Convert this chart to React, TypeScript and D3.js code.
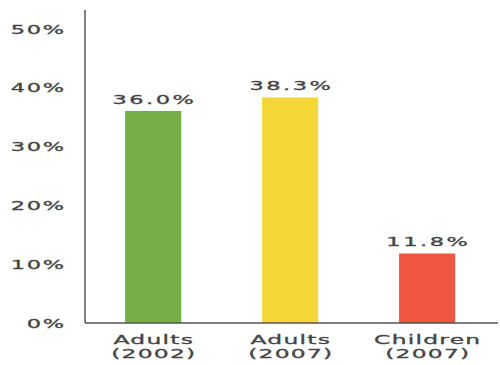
import React from "react";
import * as d3 from "d3";

const categories = ["Adults|(2002)", "Adults|(2007)", "Children|(2007)"];
const values = [36.0, 38.3, 11.8];
const colors = ["#78ae48", "#f5d638", "#ee5640"];
const yTicks = [0, 10, 20, 30, 40, 50];

const W = 500;
const H = 365;
const SX = 1.8;
const FONT = "'DejaVu Sans', Verdana, sans-serif";
const TXT = "#444";

function WideText({ x, y, children, anchor = "middle", size = 13, ls = 1 }: any) {
  return (
    <g transform={`translate(${x},${y}) scale(${SX},1)`}>
      <text
        textAnchor={anchor}
        fontFamily={FONT}
        fontSize={size}
        letterSpacing={ls}
        fill={TXT}
        stroke={TXT}
        strokeWidth={0.3}
        dx={anchor === "middle" ? ls / 2 : anchor === "end" ? ls : 0}
      >
        {children}
      </text>
    </g>
  );
}

export default function App() {
  const x0 = 85;
  const xEnd = 498;
  const y = d3.scaleLinear().domain([0, 50]).range([323, 28.5]);
  const x = d3
    .scaleBand()
    .domain(categories)
    .range([84, 496.3])
    .paddingInner(0.59)
    .paddingOuter(0.3);

  return (
    <svg
      width={W}
      height={H}
      style={{ position: "absolute", left: 0, top: 0, background: "#fff" }}
    >
      <rect x={0} y={0} width={W} height={H} fill="#fff" />
      {yTicks.map((t) => (
        <WideText key={t} x={64} y={y(t) + 5} anchor="end" size={12.5} ls={0.9}>
          {t}%
        </WideText>
      ))}
      {categories.map((c, i) => {
        const bx = x(c)!;
        const bw = x.bandwidth();
        const cx = bx + bw / 2;
        const [l1, l2] = c.split("|");
        return (
          <g key={c}>
            <rect x={bx} y={y(values[i])} width={bw} height={y(0) - y(values[i])} fill={colors[i]} />
            <WideText x={cx} y={y(values[i]) - 7} size={12.5} ls={1.4}>
              {values[i].toFixed(1)}%
            </WideText>
            <WideText x={cx} y={343.5} size={13} ls={0.7}>
              {l1}
            </WideText>
            <WideText x={cx} y={357.5} size={13} ls={0.7}>
              {l2}
            </WideText>
          </g>
        );
      })}
      <line x1={x0} x2={x0} y1={10} y2={323} stroke="#555" strokeWidth={1.5} />
      <line x1={x0} x2={xEnd} y1={323} y2={323} stroke="#555" strokeWidth={1.5} />
    </svg>
  );
}
